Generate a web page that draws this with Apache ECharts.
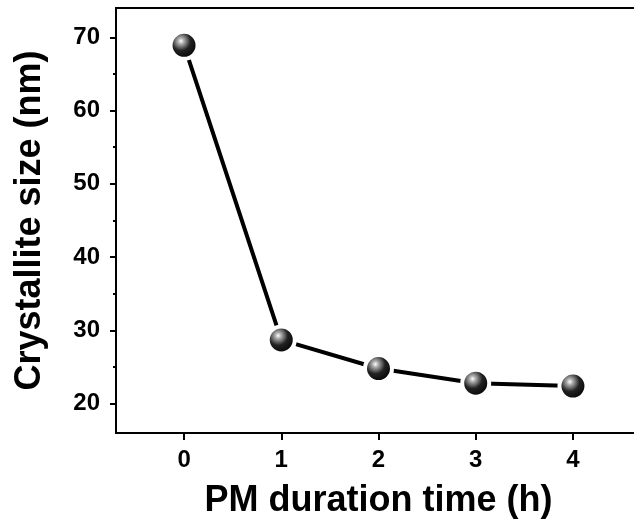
<!DOCTYPE html>
<html>
<head>
<meta charset="utf-8">
<script src="https://cdn.jsdelivr.net/npm/echarts@6/dist/echarts.min.js"></script>
<style>html,body{margin:0;padding:0;background:#fff}#c{width:634px;height:522px}</style>
</head>
<body>
<div id="c"></div>
<script>
const hours = [0, 1, 2, 3, 4];
const crystalliteSize = [68.9, 28.7, 24.8, 22.8, 22.4];
const xTicks = [0, 1, 2, 3, 4];
const yTicks = [20, 30, 40, 50, 60, 70];
const yMinorTicks = [25, 35, 45, 55, 65];

const font = 'Liberation Sans, Arial, sans-serif';
const chart = echarts.init(document.getElementById('c'));
const ball = {
  type: 'radial', x: 0.4, y: 0.36, r: 0.62,
  colorStops: [
    {offset: 0, color: '#ffffff'},
    {offset: 0.15, color: '#b0b0b0'},
    {offset: 0.5, color: '#222'},
    {offset: 1, color: '#000'}
  ]
};
chart.setOption({
  animation: false,
  grid: {left: 116, top: 8, width: 525, height: 425, containLabel: false, outerBoundsMode: 'none',
         show: true, borderColor: '#000', borderWidth: 2, backgroundColor: 'transparent'},
  xAxis: {
    type: 'value', min: -0.7, max: 4.7,
    name: 'PM duration time (h)', nameLocation: 'middle', nameGap: 50,
    nameTextStyle: {fontFamily: font, fontWeight: 'bold', fontSize: 36, color: '#000'},
    axisLine: {show: true, onZero: false, lineStyle: {color: '#000', width: 2}},
    axisTick: {show: true, customValues: xTicks, length: 7, lineStyle: {color: '#000', width: 2}},
    axisLabel: {customValues: xTicks, margin: 15, fontFamily: font, fontWeight: 'bold', fontSize: 24, color: '#000'},
    splitLine: {show: false}
  },
  yAxis: [{
    type: 'value', min: 16, max: 74,
    name: 'Crystallite size (nm)', nameLocation: 'middle', nameGap: 68,
    nameTextStyle: {fontFamily: font, fontWeight: 'bold', fontSize: 36, color: '#000'},
    axisLine: {show: true, onZero: false, lineStyle: {color: '#000', width: 2}},
    axisTick: {show: true, customValues: yTicks, length: 6, lineStyle: {color: '#000', width: 2}},
    axisLabel: {customValues: yTicks, margin: 16, fontFamily: font, fontWeight: 'bold', fontSize: 24, color: '#000'},
    splitLine: {show: false}
  }, {
    type: 'value', min: 16, max: 74, position: 'left',
    axisLine: {show: false, onZero: false},
    axisTick: {show: true, customValues: yMinorTicks, length: 3, lineStyle: {color: '#000', width: 2}},
    axisLabel: {show: false},
    splitLine: {show: false}
  }],
  series: [{
    type: 'line',
    data: hours.map((h, i) => [h, crystalliteSize[i]]),
    symbol: 'circle', symbolSize: 27,
    lineStyle: {color: '#000', width: 4},
    itemStyle: {color: ball, borderColor: '#fff', borderWidth: 4},
    z: 3
  }]
});
</script>
</body>
</html>
